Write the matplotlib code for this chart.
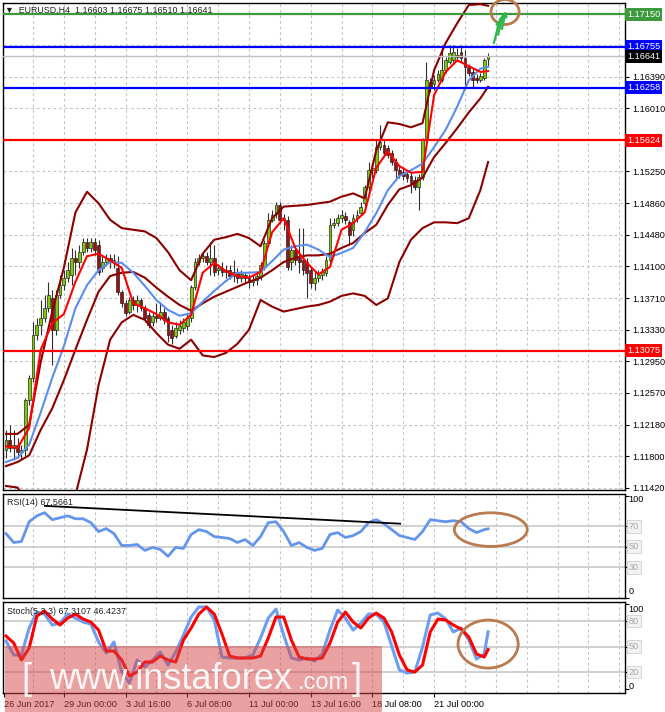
import matplotlib
matplotlib.use("Agg")
import matplotlib.pyplot as plt
from matplotlib.patches import Rectangle, Ellipse
from matplotlib.transforms import blended_transform_factory
import numpy as np

plt.rcParams['font.family'] = ['Liberation Sans', 'DejaVu Sans']

# ---------------- data ----------------
c_open = [1.1188, 1.1200, 1.1190, 1.1194, 1.1185, 1.1188, 1.1248, 1.1275, 1.1327, 1.1339,
          1.1347, 1.1359, 1.1371, 1.1333, 1.1375, 1.1387, 1.1396, 1.1399, 1.1420, 1.1415,
          1.1427, 1.1439, 1.1432, 1.1439, 1.1436, 1.1408, 1.1415, 1.1420, 1.1415, 1.1408,
          1.1379, 1.1365, 1.1355, 1.1369, 1.1363, 1.1369, 1.1359, 1.1351, 1.1342, 1.1350,
          1.1347, 1.1355, 1.1347, 1.1333, 1.1325, 1.1333, 1.1335, 1.1338, 1.1347, 1.1385,
          1.1415, 1.1420, 1.1422, 1.1415, 1.1420, 1.1405, 1.1408, 1.1403, 1.1405, 1.1398,
          1.1403, 1.1396, 1.1399, 1.1396, 1.1391, 1.1393, 1.1397, 1.1409, 1.1438, 1.1466,
          1.1473, 1.1484, 1.1466, 1.1466, 1.1415, 1.1430, 1.1420, 1.1417, 1.1415, 1.1405,
          1.1390, 1.1396, 1.1399, 1.1402, 1.1417, 1.1460, 1.1462, 1.1468, 1.1471, 1.1463,
          1.1454, 1.1468, 1.1474, 1.1486, 1.1506, 1.1526, 1.1526, 1.1554, 1.1557, 1.1553,
          1.1547, 1.1536, 1.1526, 1.1524, 1.1522, 1.1519, 1.1514, 1.1506, 1.1518, 1.1563,
          1.1633, 1.1630, 1.1635, 1.1635, 1.1647, 1.1657, 1.1659, 1.1665, 1.1669, 1.1662,
          1.1651, 1.1645, 1.1638, 1.1635, 1.1638, 1.16603]
c_high = [1.1212, 1.1218, 1.1212, 1.1202, 1.1194, 1.1250, 1.1278, 1.1342, 1.1347, 1.1369,
          1.1375, 1.1391, 1.1381, 1.1381, 1.1399, 1.1405, 1.1415, 1.1432, 1.1430, 1.1436,
          1.1444, 1.1444, 1.1444, 1.1444, 1.1442, 1.1423, 1.1425, 1.1425, 1.1425, 1.1422,
          1.1381, 1.1369, 1.1373, 1.1374, 1.1375, 1.1371, 1.1363, 1.1355, 1.1355, 1.1365,
          1.1367, 1.1359, 1.1350, 1.1339, 1.1342, 1.1345, 1.1347, 1.1352, 1.1387, 1.1420,
          1.1425, 1.1427, 1.1427, 1.1439, 1.1436, 1.1413, 1.1415, 1.1411, 1.1411, 1.1417,
          1.1408, 1.1405, 1.1403, 1.1401, 1.1399, 1.1403, 1.1415, 1.1442, 1.1474, 1.1478,
          1.1488, 1.1488, 1.1473, 1.1471, 1.1436, 1.1436, 1.1456, 1.1456, 1.1420, 1.1410,
          1.1403, 1.1405, 1.1408, 1.1422, 1.1468, 1.1468, 1.1473, 1.1478, 1.1476, 1.1466,
          1.1473, 1.1478, 1.1488, 1.1508, 1.1536, 1.1532, 1.1563, 1.1581, 1.1563, 1.1557,
          1.1551, 1.1541, 1.1531, 1.1529, 1.1526, 1.1524, 1.1519, 1.1522, 1.1565, 1.1657,
          1.1638, 1.1641, 1.1647, 1.1678, 1.1663, 1.1678, 1.1678, 1.1674, 1.1678, 1.1672,
          1.1655, 1.1650, 1.1643, 1.1644, 1.1662, 1.16675]
c_low = [1.1178, 1.1185, 1.1175, 1.1178, 1.1175, 1.1180, 1.1242, 1.1270, 1.1321, 1.1327,
         1.1342, 1.1355, 1.1290, 1.1327, 1.1371, 1.1381, 1.1391, 1.1387, 1.1399, 1.1408,
         1.1423, 1.1427, 1.1427, 1.1423, 1.1399, 1.1403, 1.1410, 1.1408, 1.1408, 1.1375,
         1.1361, 1.1350, 1.1352, 1.1357, 1.1355, 1.1356, 1.1342, 1.1335, 1.1338, 1.1342,
         1.1345, 1.1340, 1.1318, 1.1316, 1.1323, 1.1328, 1.1330, 1.1333, 1.1342, 1.1381,
         1.1411, 1.1415, 1.1411, 1.1399, 1.1398, 1.1399, 1.1398, 1.1396, 1.1394, 1.1391,
         1.1390, 1.1391, 1.1390, 1.1384, 1.1386, 1.1387, 1.1393, 1.1405, 1.1434, 1.1463,
         1.1468, 1.1461, 1.1454, 1.1405, 1.1405, 1.1411, 1.1402, 1.1399, 1.1371, 1.1384,
         1.1381, 1.1391, 1.1393, 1.1398, 1.1415, 1.1456, 1.1459, 1.1463, 1.1461, 1.1436,
         1.1446, 1.1463, 1.1472, 1.1483, 1.1502, 1.1517, 1.1523, 1.1551, 1.1543, 1.1541,
         1.1532, 1.1514, 1.1517, 1.1514, 1.1512, 1.1499, 1.1502, 1.1478, 1.1514, 1.1560,
         1.1621, 1.1623, 1.1633, 1.1633, 1.1644, 1.1655, 1.1657, 1.1659, 1.1657, 1.1629,
         1.1640, 1.1626, 1.1632, 1.1633, 1.1635, 1.16510]
c_close = [1.1200, 1.1190, 1.1194, 1.1185, 1.1188, 1.1248, 1.1275, 1.1327, 1.1339, 1.1347,
           1.1359, 1.1375, 1.1333, 1.1375, 1.1387, 1.1396, 1.1405, 1.1420, 1.1415, 1.1427,
           1.1439, 1.1432, 1.1439, 1.1430, 1.1403, 1.1415, 1.1420, 1.1415, 1.1417, 1.1379,
           1.1365, 1.1353, 1.1369, 1.1363, 1.1369, 1.1359, 1.1347, 1.1339, 1.1350, 1.1347,
           1.1355, 1.1345, 1.1327, 1.1323, 1.1335, 1.1338, 1.1342, 1.1347, 1.1385, 1.1415,
           1.1420, 1.1422, 1.1415, 1.1420, 1.1403, 1.1408, 1.1403, 1.1405, 1.1398, 1.1403,
           1.1396, 1.1401, 1.1396, 1.1391, 1.1393, 1.1398, 1.1411, 1.1438, 1.1466, 1.1472,
           1.1484, 1.1466, 1.1468, 1.1409, 1.1430, 1.1417, 1.1415, 1.1405, 1.1402, 1.1390,
           1.1396, 1.1399, 1.1403, 1.1417, 1.1460, 1.1462, 1.1468, 1.1472, 1.1466, 1.1448,
           1.1468, 1.1472, 1.1482, 1.1506, 1.1526, 1.1529, 1.1554, 1.1560, 1.1547, 1.1544,
           1.1536, 1.1526, 1.1520, 1.1519, 1.1517, 1.1511, 1.1506, 1.1518, 1.1563, 1.1635,
           1.1626, 1.1635, 1.1643, 1.1647, 1.1659, 1.1668, 1.1669, 1.1663, 1.1662, 1.1651,
           1.1644, 1.1635, 1.1635, 1.1640, 1.1659, 1.16641]

# indicator lines sampled every 3 bars
line_idx = list(range(0, 124, 3)) + [125]
ma_fast = [1.1192, 1.1190, 1.1214, 1.1309, 1.1341, 1.1352, 1.1391, 1.1422, 1.1425, 1.1417,
           1.1408, 1.1365, 1.1359, 1.1352, 1.1342, 1.1339, 1.1351, 1.1402, 1.1414, 1.1404,
           1.1398, 1.1396, 1.1403, 1.1451, 1.1468, 1.1432, 1.1414, 1.1400, 1.1409, 1.1454,
           1.1462, 1.1475, 1.1529, 1.1549, 1.1531, 1.1523, 1.1524, 1.1617, 1.1645, 1.1659,
           1.1652, 1.1645, 1.1646]
ma_slow = [1.1173, 1.1178, 1.1194, 1.1233, 1.1275, 1.1313, 1.1359, 1.1387, 1.1405, 1.1415,
           1.1414, 1.1402, 1.1386, 1.1369, 1.1357, 1.1350, 1.1353, 1.1367, 1.1380, 1.1392,
           1.1402, 1.1402, 1.1403, 1.1416, 1.1430, 1.1434, 1.1436, 1.1430, 1.1421, 1.1426,
           1.1432, 1.1451, 1.1474, 1.1502, 1.1519, 1.1526, 1.1534, 1.1554, 1.1575, 1.1603,
           1.1635, 1.1649, 1.1651]
bb_upper = [1.1207, 1.1207, 1.1218, 1.1294, 1.1355, 1.1408, 1.1475, 1.1500, 1.1486, 1.1466,
            1.1456, 1.1454, 1.1452, 1.1444, 1.1427, 1.1405, 1.1393, 1.1425, 1.1442, 1.1445,
            1.1449, 1.1444, 1.1434, 1.1468, 1.1482, 1.1483, 1.1484, 1.1486, 1.1488, 1.1494,
            1.1498, 1.1492, 1.1550, 1.1584, 1.1582, 1.1578, 1.1583, 1.1647, 1.1680, 1.1704,
            1.1726, 1.1727, 1.1725]
bb_mid = [1.1168, 1.1173, 1.1181, 1.1212, 1.1238, 1.1272, 1.1309, 1.1345, 1.1379, 1.1398,
          1.1402, 1.1403, 1.1396, 1.1384, 1.1373, 1.1363, 1.1356, 1.1365, 1.1373, 1.1379,
          1.1385, 1.1391, 1.1396, 1.1405, 1.1415, 1.1420, 1.1423, 1.1423, 1.1425, 1.1432,
          1.1438, 1.1450, 1.1460, 1.1484, 1.1503, 1.1508, 1.1517, 1.1542, 1.1559, 1.1577,
          1.1596, 1.1613, 1.1627]
bb_lower = [1.1144, 1.1142, 1.1121, 1.1054, 1.1006, 1.1030, 1.1133, 1.1188, 1.1266, 1.1321,
            1.1342, 1.1351, 1.1345, 1.1329, 1.1315, 1.1310, 1.1321, 1.1302, 1.1300, 1.1305,
            1.1316, 1.1333, 1.1369, 1.1361, 1.1355, 1.1358, 1.1361, 1.1363, 1.1367, 1.1374,
            1.1377, 1.1374, 1.1363, 1.1371, 1.1415, 1.1442, 1.1456, 1.1463, 1.1463, 1.1462,
            1.1468, 1.1502, 1.1536]

# oscillators sampled every 2 bars
osc_idx = list(range(0, 125, 2)) + [125]
rsi = [62.9, 54.2, 55.2, 74.5, 80.3, 83.3, 76.5, 78.4, 80.3, 77.4,
       77.4, 73.6, 64.9, 67.8, 62.9, 51.3, 51.3, 52.3, 46.5, 49.4,
       47.4, 40.7, 49.4, 48.4, 62.0, 66.8, 64.9, 60.0, 59.1, 58.1,
       54.2, 57.1, 51.3, 60.0, 73.6, 74.5, 64.9, 51.3, 54.2, 49.4,
       46.5, 48.4, 62.0, 63.9, 59.1, 61.0, 64.9, 73.6, 76.5, 72.6,
       66.8, 61.0, 59.1, 57.1, 64.9, 76.5, 75.5, 74.5, 75.5, 74.5,
       67.8, 63.9, 66.8, 67.57]
stoch_k = [56.5, 40.0, 40.0, 71.8, 90.6, 88.2, 75.3, 77.6, 88.2, 83.5,
           78.8, 76.5, 55.3, 42.4, 55.3, 20.0, 7.1, 34.1, 25.9, 34.1,
           43.5, 28.2, 43.5, 63.5, 84.7, 96.5, 96.5, 81.2, 37.6, 36.5,
           36.5, 36.5, 40.0, 60.0, 83.5, 94.1, 63.5, 36.5, 34.1, 36.5,
           32.9, 41.2, 69.4, 92.9, 83.5, 69.4, 77.6, 88.2, 88.2, 78.8,
           50.6, 22.4, 18.8, 20.0, 49.4, 87.1, 89.4, 82.4, 67.1, 71.8,
           57.6, 35.3, 41.2, 67.31]
stoch_d = [62.4, 54.1, 34.1, 48.2, 85.9, 91.8, 82.4, 75.3, 83.5, 88.2,
           82.4, 78.8, 69.4, 44.7, 44.7, 34.1, 15.3, 20.0, 31.8, 31.8,
           38.8, 34.1, 31.8, 57.6, 71.8, 88.2, 96.5, 88.2, 64.7, 38.8,
           36.5, 36.5, 36.5, 38.8, 60.0, 84.7, 84.7, 57.6, 37.6, 35.3,
           35.3, 36.5, 54.1, 78.8, 90.6, 78.8, 71.8, 83.5, 89.4, 83.5,
           67.1, 40.0, 22.4, 20.0, 28.2, 67.1, 82.4, 81.2, 75.3, 70.6,
           61.2, 41.2, 37.6, 46.42]

rsi_trend_x = [10.1, 102.2]
rsi_trend_y = [90.0, 72.6]

price_ticks = [1.11420, 1.11800, 1.12180, 1.12570, 1.12950, 1.13330, 1.13710, 1.14100,
               1.14480, 1.14860, 1.15250, 1.15630, 1.16010, 1.16390, 1.16770, 1.17150]
hidden_ticks = [1.15630, 1.16770, 1.17150]
level_prices = [1.17150, 1.16755, 1.16258, 1.15624, 1.13075]
level_colors = ['#3c9a3c', '#0000ff', '#0000ff', '#ff0000', '#ff0000']
bid_price = 1.16641

date_labels = ["26 Jun 2017", "29 Jun 00:00", "3 Jul 16:00", "6 Jul 08:00",
               "11 Jul 00:00", "13 Jul 16:00", "18 Jul 08:00", "21 Jul 00:00"]
date_pos = [-0.6, 15, 31, 47, 63, 79, 95, 111]

header = "\u25BC  EURUSD,H4  1.16603 1.16675 1.16510 1.16641"

# ---------------- layout ----------------
W, H = 665, 712
fig = plt.figure(figsize=(W / 100, H / 100), dpi=100)
fig.patch.set_facecolor('white')


def rect(left, top, right, bottom):
    return [left / W, 1 - bottom / H, (right - left) / W, (bottom - top) / H]


ax = fig.add_axes(rect(3, 3, 625, 490))
ax_rsi = fig.add_axes(rect(3, 494, 625, 598))
ax_st = fig.add_axes(rect(3, 602, 625, 693))

XL = (-0.78, 160.5)
GRID = dict(color='#c4c4c4', lw=0.8, linestyle=(0, (2.5, 2.5)), zorder=0.5)
grid_x = np.arange(7, 161, 8)

for a in (ax, ax_rsi, ax_st):
    a.set_xlim(*XL)
    for gx in grid_x:
        a.axvline(gx, **GRID)
    for s in a.spines.values():
        s.set_color('black')
        s.set_linewidth(1.0)
    a.tick_params(axis='x', bottom=False, labelbottom=False)
    a.yaxis.tick_right()

TICKFONT = 6.6

# ---------------- main panel ----------------
ax.set_ylim(1.11391, 1.17284)
for p in price_ticks:
    ax.axhline(p, **GRID)
ax.set_yticks(price_ticks)
ax.set_yticklabels(['' if p in hidden_ticks else f"{p:.5f}" for p in price_ticks])
ax.tick_params(axis='y', right=True, length=3, width=0.8, pad=2, labelsize=TICKFONT)

idx = np.arange(len(c_close))
o = np.array(c_open); hh = np.array(c_high); ll = np.array(c_low); cc = np.array(c_close)
up = cc >= o
ax.vlines(idx, ll, hh, color='#303030', lw=0.8, zorder=2)
ax.bar(idx[up], (cc - o)[up], bottom=o[up], width=0.72, color='#7ccd00',
       edgecolor='#1a1a1a', linewidth=0.45, zorder=2.5)
ax.bar(idx[~up], (cc - o)[~up], bottom=o[~up], width=0.72, color='#9b1010',
       edgecolor='#1a1a1a', linewidth=0.45, zorder=2.5)

for series in (bb_upper, bb_mid, bb_lower):
    ax.plot(line_idx, series, color='#8b0000', lw=1.5, zorder=3)
ax.plot(line_idx, ma_slow, color='#5b8def', lw=1.5, zorder=3.2)
ax.plot(line_idx, ma_fast, color='#ff0000', lw=1.5, zorder=3.4)

ax.axhline(bid_price, color='#c0c0c0', lw=1.0, zorder=3.6)
for p, col in zip(level_prices, level_colors):
    ax.axhline(p, color=col, lw=1.6, zorder=4)

tr = blended_transform_factory(ax.transAxes, ax.transData)
for p, col in zip(level_prices + [bid_price], level_colors + ['#000000']):
    ax.text(1.003, p, f"{p:.5f}", transform=tr, ha='left', va='center', color='white',
            fontsize=TICKFONT, clip_on=False, zorder=6,
            bbox=dict(boxstyle='square,pad=0.22', fc=col, ec='none'))

ax.text(0.004, 0.986, header, transform=ax.transAxes, ha='left', va='center',
        fontsize=6.4, color='#202020', zorder=6)

# annotations: circle + green arrows
ax.add_patch(Ellipse((129.4, 1.17175), 7.3, 0.00302, fill=False, ec='#b97a4e',
                     lw=2.0, zorder=6, clip_on=False))
arrow_starts = [(126.5, 1.1680), (127.6, 1.1690), (128.6, 1.1697)]
arrow_ends = [(128.1, 1.1709), (128.9, 1.1715), (129.6, 1.1719)]
for s, e in zip(arrow_starts, arrow_ends):
    ax.annotate('', xy=e, xytext=s,
                arrowprops=dict(arrowstyle='-|>', color='#2fb84a', lw=1.6,
                                mutation_scale=7, shrinkA=0, shrinkB=0),
                zorder=6)

# ---------------- RSI ----------------
ax_rsi.set_ylim(0.5, 101.6)
for lv in (70, 50, 30):
    ax_rsi.axhline(lv, color='#c8c8c8', lw=1.2, zorder=0.6)
ax_rsi.plot(osc_idx, rsi, color='#6495ed', lw=2.0, zorder=3)
ax_rsi.plot(rsi_trend_x, rsi_trend_y, color='black', lw=1.3, zorder=4)
ax_rsi.add_patch(Ellipse((125.7, 66.8), 18.9, 32.9, fill=False, ec='#b97a4e',
                         lw=2.0, zorder=5))
ax_rsi.set_yticks([0, 30, 50, 70, 100])
ax_rsi.set_yticklabels([])
ax_rsi.tick_params(axis='y', right=True, length=3, width=0.8)
trr = blended_transform_factory(ax_rsi.transAxes, ax_rsi.transData)
ax_rsi.text(1.006, 96, "100", transform=trr, ha='left', va='center', fontsize=TICKFONT, clip_on=False)
ax_rsi.text(1.006, 6, "0", transform=trr, ha='left', va='center', fontsize=TICKFONT, clip_on=False)
for lv in (70, 50, 30):
    ax_rsi.text(1.006, lv, str(lv), transform=trr, ha='left', va='center', fontsize=TICKFONT,
                color='#a8a8a8', clip_on=False,
                bbox=dict(boxstyle='square,pad=0.2', fc='#f2f2f2', ec='#d0d0d0', lw=0.6))
ax_rsi.text(0.006, 92.9, "RSI(14) 67.5661", transform=trr, ha='left', va='center',
            fontsize=6.4, color='#202020', zorder=6)

# ---------------- Stochastic ----------------
ax_st.set_ylim(-4.7, 102.4)
for lv in (80, 50, 20):
    ax_st.axhline(lv, color='#c8c8c8', lw=1.2, zorder=0.6)
ax_st.plot(osc_idx, stoch_k, color='#6c9ef0', lw=2.2, zorder=3)
ax_st.plot(osc_idx, stoch_d, color='#ff0000', lw=2.2, zorder=3.2)
ax_st.add_patch(Ellipse((125.0, 52.9), 15.6, 56.5, fill=False, ec='#b97a4e',
                        lw=2.0, zorder=5))
ax_st.set_yticks([0, 20, 50, 80, 100])
ax_st.set_yticklabels([])
ax_st.tick_params(axis='y', right=True, length=3, width=0.8)
trs = blended_transform_factory(ax_st.transAxes, ax_st.transData)
ax_st.text(1.006, 93, "100", transform=trs, ha='left', va='center', fontsize=TICKFONT, clip_on=False)
ax_st.text(1.006, 3, "0", transform=trs, ha='left', va='center', fontsize=TICKFONT, clip_on=False)
for lv in (80, 50, 20):
    ax_st.text(1.006, lv, str(lv), transform=trs, ha='left', va='center', fontsize=TICKFONT,
               color='#a8a8a8', clip_on=False,
               bbox=dict(boxstyle='square,pad=0.2', fc='#f2f2f2', ec='#d0d0d0', lw=0.6))
ax_st.text(0.006, 91.8, "Stoch(5,3,3) 67.3107 46.4237", transform=trs, ha='left',
           va='center', fontsize=6.4, color='#202020', zorder=6)

ax_st.set_xticks(date_pos)
ax_st.set_xticklabels(date_labels, ha='left')
ax_st.tick_params(axis='x', bottom=True, labelbottom=True, length=3, width=0.8,
                  pad=2, labelsize=TICKFONT)

# ---------------- watermark ----------------
fig.add_artist(Rectangle((5 / W, 0), (382 - 5) / W, (712 - 646) / H,
                         transform=fig.transFigure, fc='#d64545', alpha=0.5,
                         ec='none', zorder=10))
base = 1 - 689 / H
fig.text(21 / W, base, "[", fontsize=26, color='white', alpha=0.9, zorder=11)
fig.text(49 / W, base, "www.instaforex", fontsize=26, color='white', alpha=0.9, zorder=11)
fig.text(298 / W, base, ".com", fontsize=17, color='white', alpha=0.9, zorder=11)
fig.text(352 / W, base, "]", fontsize=26, color='white', alpha=0.9, zorder=11)

fig.savefig("out.png", dpi=100, facecolor='white')
